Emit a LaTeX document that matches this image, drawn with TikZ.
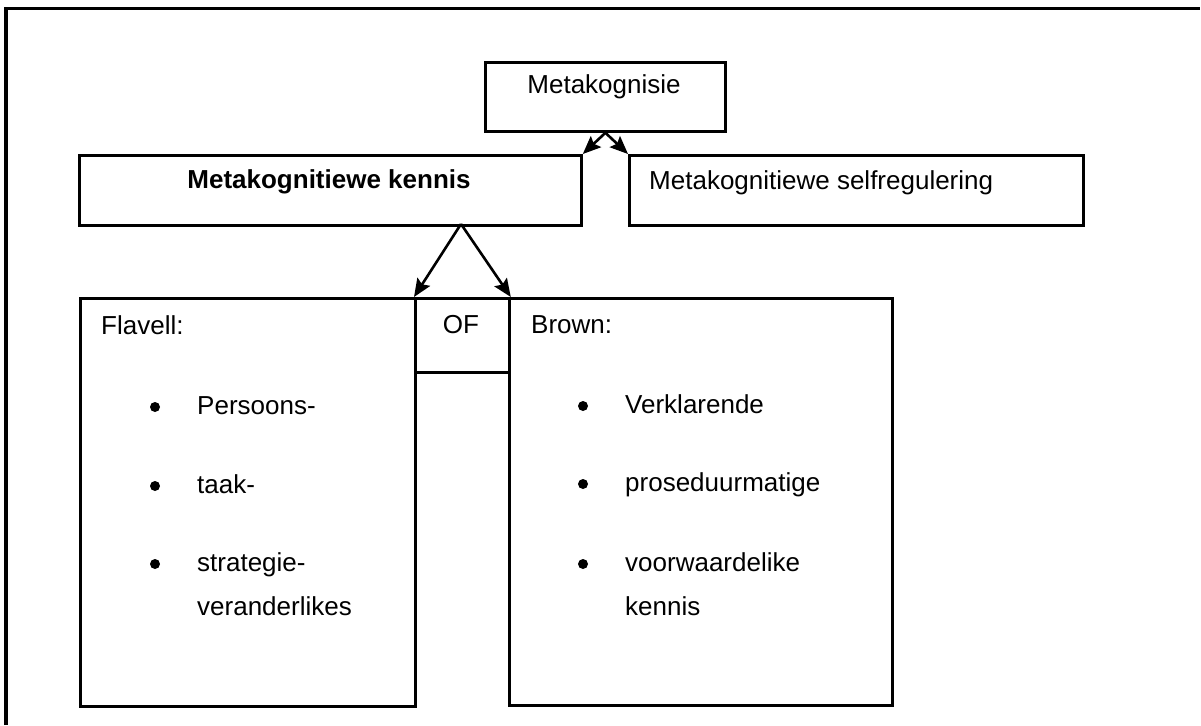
\documentclass[tikz,border=0pt]{standalone}
\usepackage{fontspec}
\setmainfont{Liberation Sans}
\usetikzlibrary{arrows.meta}
\begin{document}
\begin{tikzpicture}[x=1pt,y=-1pt,
  box/.style={draw, line width=2.8pt, inner sep=0pt, anchor=north west},
  lbl/.style={inner sep=0pt, anchor=base west, font=\fontsize{26}{30}\selectfont},
  clbl/.style={lbl, anchor=base},
  dot/.style={circle, fill, inner sep=0pt, minimum size=10pt},
  link/.style={line width=2.6pt, -{Stealth[length=18pt,width=15pt,inset=3pt]}}]
\useasboundingbox (0,0) rectangle (1201,725);

% open frame: top and left edges only
\draw[line width=3.4pt] (6,725) -- (6,8.5) -- (1200,8.5);

% boxes
\node[box, minimum width=240pt, minimum height=69pt] (meta) at (484,61) {};
\node[box, minimum width=502pt, minimum height=70pt] (kennis) at (78,154) {};
\node[box, minimum width=454pt, minimum height=70pt] (selfreg) at (628,154) {};
\node[box, minimum width=335pt, minimum height=408pt] (flavell) at (79,297) {};
\node[box, minimum width=94pt, minimum height=74pt] (of) at (414,297) {};
\node[box, minimum width=383pt, minimum height=407pt] (brown) at (508,297) {};

% box texts
\node[clbl] (tmeta) at (604,93) {Metakognisie};
\node[clbl, font=\fontsize{26}{30}\selectfont\bfseries] (tkennis) at (329,188) {Metakognitiewe kennis};
\node[lbl] (tselfreg) at (649,189) {Metakognitiewe selfregulering};
\node[clbl] (tof) at (461,333) {OF};

% Flavell
\node[lbl] (tflavell) at (101,334) {Flavell:};
\node[dot] (fb1) at (155,407) {};
\node[lbl] (f1) at (197,414) {Persoons-};
\node[dot] (fb2) at (155,486) {};
\node[lbl] (f2) at (197,493) {taak-};
\node[dot] (fb3) at (155,564) {};
\node[lbl] (f3) at (197,571) {strategie-};
\node[lbl] (f4) at (197,615) {veranderlikes};

% Brown
\node[lbl] (tbrown) at (531,333) {Brown:};
\node[dot] (bb1) at (583,406) {};
\node[lbl] (b1) at (625,413) {Verklarende};
\node[dot] (bb2) at (583,484) {};
\node[lbl] (b2) at (625,491) {proseduurmatige};
\node[dot] (bb3) at (583,564) {};
\node[lbl] (b3) at (625,571) {voorwaardelike};
\node[lbl] (b4) at (625,615) {kennis};

% connectors
\draw[link] (meta.south) -- (kennis.north east);
\draw[link] (meta.south) -- (selfreg.north west);
\coordinate (fork) at (461,224);
\draw[link] (fork) -- (of.north west);
\draw[link] (fork) -- (of.north east);
\end{tikzpicture}
\end{document}
